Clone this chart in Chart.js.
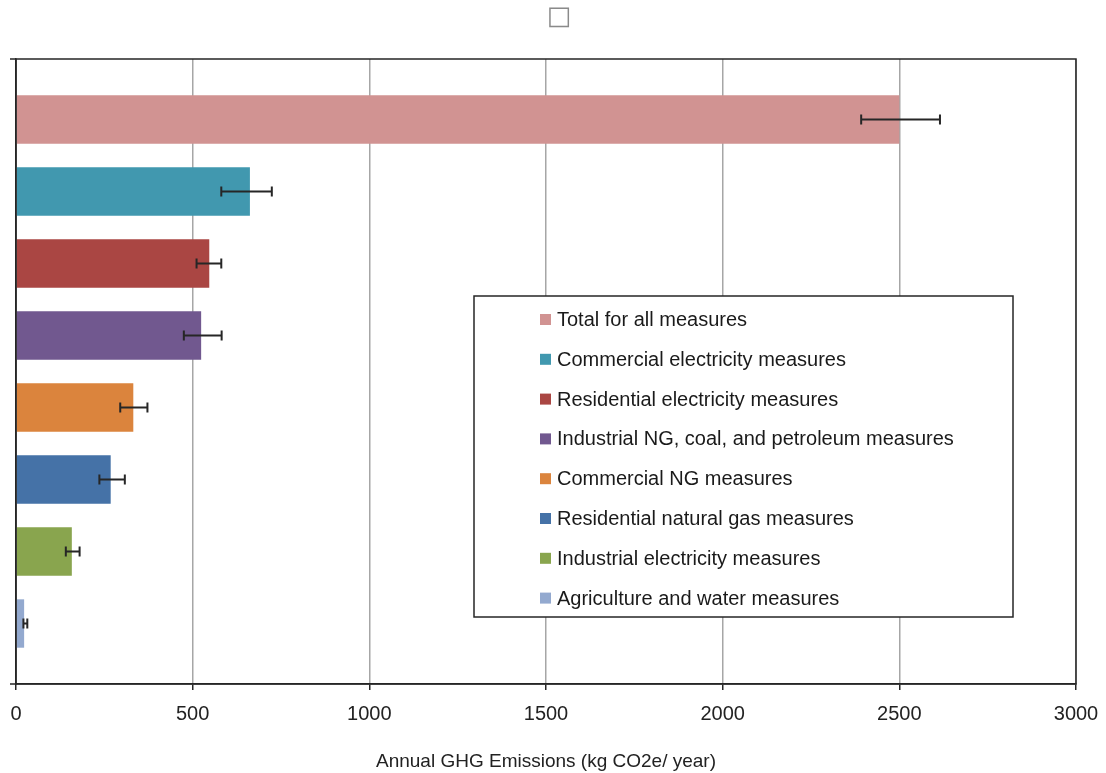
<!DOCTYPE html>
<html>
<head>
<meta charset="utf-8">
<script src="https://cdn.jsdelivr.net/npm/chart.js@4/dist/chart.umd.min.js"></script>
<style>
  html, body { margin: 0; padding: 0; background: #fff; }
  #wrap { width: 1106px; height: 773px; }
</style>
</head>
<body>
<div id="wrap"><canvas id="ghg-chart"></canvas></div>
<script>
// measures, top to bottom
const measureNames = [
    'Total for all measures',
    'Commercial electricity measures',
    'Residential electricity measures',
    'Industrial NG, coal, and petroleum measures',
    'Commercial NG measures',
    'Residential natural gas measures',
    'Industrial electricity measures',
    'Agriculture and water measures'
];
const emissions = [2500, 662, 547, 524, 332, 268, 158, 23];
// error bar ends (kg CO2e / year)
const errorLow = [2392, 581, 511, 475, 295, 236, 141, 21];
const errorHigh = [2615, 724, 581, 582, 372, 308, 180, 32];
const barColors = ['#D19392', '#4198AF', '#AA4643', '#71588F', '#DB843D', '#4572A7', '#89A54E', '#93A9CF'];
const xTicks = [0, 500, 1000, 1500, 2000, 2500, 3000];
const chartTitle = '\u25A1';

const fontFamily = '"Liberation Sans", Arial, sans-serif';
const darkLine = '#262626';

const extrasPlugin = {
    id: 'extras',
    afterDatasetsDraw(chart) {
        const ctx = chart.ctx;
        const x = chart.scales.x;
        const y = chart.scales.y;
        ctx.save();
        ctx.strokeStyle = darkLine;
        ctx.lineWidth = 2;
        measureNames.forEach((name, i) => {
            const yc = y.getPixelForValue(i);
            const x1 = x.getPixelForValue(errorLow[i]);
            const x2 = x.getPixelForValue(errorHigh[i]);
            ctx.beginPath();
            ctx.moveTo(x1, yc);
            ctx.lineTo(x2, yc);
            ctx.moveTo(x1, yc - 5);
            ctx.lineTo(x1, yc + 5);
            ctx.moveTo(x2, yc - 5);
            ctx.lineTo(x2, yc + 5);
            ctx.stroke();
        });
        ctx.restore();
    },
    afterDraw(chart) {
        const ctx = chart.ctx;
        const area = chart.chartArea;
        ctx.save();

        // title (the source shows only a missing-glyph box)
        ctx.fillStyle = '#8a8a8a';
        ctx.font = '26px "DejaVu Sans", sans-serif';
        ctx.textAlign = 'center';
        ctx.textBaseline = 'middle';
        ctx.fillText(chartTitle, 559, 17);

        // plot frame and the two small category ticks
        ctx.strokeStyle = darkLine;
        ctx.lineWidth = 1.5;
        ctx.strokeRect(area.left, area.top, area.right - area.left, area.bottom - area.top);
        ctx.beginPath();
        ctx.moveTo(area.left - 6, area.top);
        ctx.lineTo(area.left, area.top);
        ctx.moveTo(area.left - 6, area.bottom);
        ctx.lineTo(area.left, area.bottom);
        ctx.stroke();

        // legend box
        const lx = 474, ly = 296, lw = 539, lh = 321;
        ctx.fillStyle = '#fff';
        ctx.fillRect(lx, ly, lw, lh);
        ctx.lineWidth = 1.5;
        ctx.strokeRect(lx, ly, lw, lh);

        ctx.font = '20px ' + fontFamily;
        ctx.textBaseline = 'middle';
        ctx.textAlign = 'left';
        measureNames.forEach((name, i) => {
            const yc = 319.5 + i * 39.8;
            ctx.fillStyle = barColors[i];
            ctx.fillRect(540, yc - 5.5, 11, 11);
            ctx.fillStyle = '#1a1a1a';
            ctx.fillText(name, 557, yc + 1);
        });
        ctx.restore();
    }
};

new Chart(document.querySelector('#ghg-chart').getContext('2d'), {
    type: 'bar',
    data: {
        datasets: [{
            label: 'Annual GHG Emissions',
            data: emissions.map((v, i) => ({ x: v, y: i })),
            backgroundColor: barColors,
            borderWidth: 0,
            categoryPercentage: 1,
            barPercentage: 0.8
        }]
    },
    options: {
        indexAxis: 'y',
        responsive: true,
        maintainAspectRatio: false,
        animation: false,
        layout: { padding: { top: 59, right: 30, bottom: 0, left: 0 } },
        plugins: {
            legend: { display: false },
            tooltip: { enabled: false },
            title: { display: false }
        },
        scales: {
            x: {
                type: 'linear',
                min: 0,
                max: 3000,
                afterBuildTicks: scale => { scale.ticks = xTicks.map(v => ({ value: v })); },
                afterFit: scale => {
                    scale.height = 89;
                    scale.paddingLeft = 0;
                    scale.paddingRight = 0;
                },
                grid: {
                    color: '#a6a6a6',
                    lineWidth: 1.5,
                    tickColor: darkLine,
                    tickLength: 6
                },
                border: { color: darkLine, width: 1.5 },
                ticks: {
                    color: '#222',
                    padding: 12,
                    maxRotation: 0,
                    callback: v => String(v),
                    font: { family: fontFamily, size: 20 }
                },
                title: {
                    display: true,
                    text: 'Annual GHG Emissions (kg CO2e/ year)',
                    color: '#222',
                    padding: { top: 4, bottom: 0 },
                    font: { family: fontFamily, size: 19 }
                }
            },
            y: {
                type: 'linear',
                reverse: true,
                offset: false,
                min: -0.84,
                max: 7.84,
                afterFit: scale => { scale.width = 16; },
                grid: { display: false },
                border: { color: darkLine, width: 1.5 },
                ticks: { display: false }
            }
        }
    },
    plugins: [extrasPlugin]
});
</script>
</body>
</html>
